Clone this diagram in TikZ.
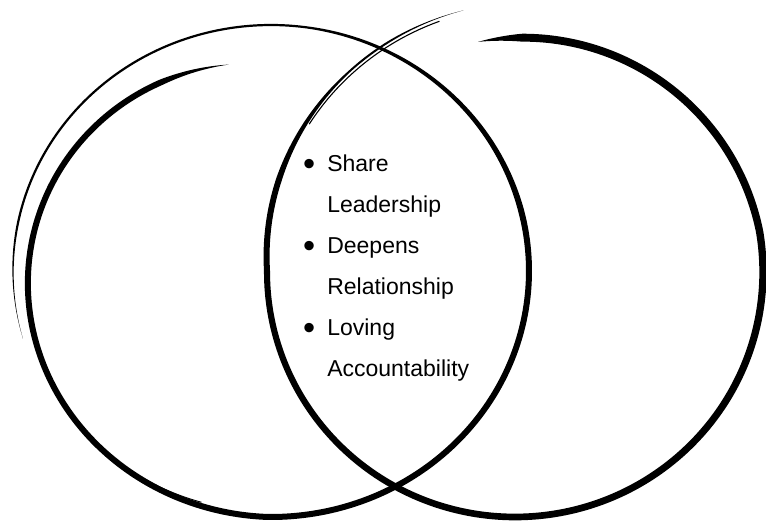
\documentclass[tikz,border=0pt]{standalone}
\usepackage{fontspec}
\setmainfont{Liberation Sans}
\usepackage{tikz}

\newcommand{\dotitem}{\raisebox{-3.5pt}{\scalebox{1.5}{\textbullet}}}

\begin{document}
\begin{tikzpicture}[x=1pt,y=-1pt,
	declare function={
		lth(\t)=259-455*\t;
		lm(\t)=max(0,1-\t/0.37);
		lsc(\t)=1-0.145*lm(\t)*(0.5+0.5*lm(\t));
		lwd(\t)=min(1,\t/0.04)*min(1,(1-\t)/0.06)*(\t<0.6 ? 6 : max(2.2,6-3.8*(\t-0.6)/0.15));
		rth(\t)=-99+358*\t;
		rsc(\t)=1-0.049*max(0,1-\t/0.25)+0.4*max(0,\t-0.78);
		rwd(\t)=min(1,\t/0.03)*min(1,(1-\t)/0.05)*(\t<0.84 ? 8-2.5*\t : max(2,5.9-3.9*(\t-0.84)/0.08));
	}]
		\useasboundingbox (0,0) rectangle (766,521);
		\fill plot[domain=0:1,samples=400,variable=\t]
			({271+(lsc(\t)*258+lwd(\t)/2)*cos(lth(\t))},{271+(lsc(\t)*246+lwd(\t)/2)*sin(lth(\t))})
			-- plot[domain=1:0,samples=400,variable=\t]
			({271+(lsc(\t)*258-lwd(\t)/2)*cos(lth(\t))},{271+(lsc(\t)*246-lwd(\t)/2)*sin(lth(\t))}) -- cycle;
		\draw[line width=0.9pt] plot[domain=128:106,samples=30,variable=\t]
			({271+0.978*258*cos(\t)},{271+0.978*246*sin(\t)});
		\fill plot[domain=0:1,samples=400,variable=\t]
			({515+(rsc(\t)*248+rwd(\t)/2)*cos(rth(\t))},{272+(rsc(\t)*245+rwd(\t)/2)*sin(rth(\t))})
			-- plot[domain=1:0,samples=400,variable=\t]
			({515+(rsc(\t)*248-rwd(\t)/2)*cos(rth(\t))},{272+(rsc(\t)*245-rwd(\t)/2)*sin(rth(\t))}) -- cycle;
		\draw[line width=1.1pt] plot[domain=0.88:0.985,samples=60,variable=\t]
			({515+(rsc(\t)-0.014)*248*cos(rth(\t))},{272+(rsc(\t)-0.014)*245*sin(rth(\t))});
		\node[anchor=base west,inner sep=0pt,font=\fontsize{23}{41}\selectfont] (points) at (303,172)
			{\begin{tabular}[t]{@{}l@{\hspace{12pt}}l@{}}
				\dotitem & Share\\
				& Leadership\\
				\dotitem & Deepens\\
				& Relationship\\
				\dotitem & Loving\\
				& Accountability
			\end{tabular}};
	\end{tikzpicture}
\end{document}
